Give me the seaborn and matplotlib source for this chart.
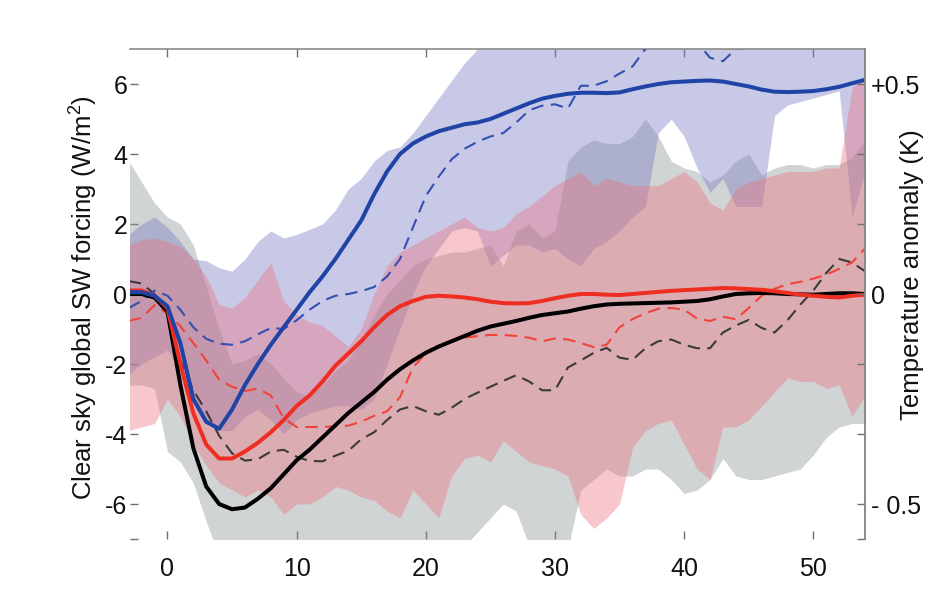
import numpy as np
import pandas as pd
import matplotlib
matplotlib.use("Agg")
import matplotlib.pyplot as plt
import seaborn as sns

# ---------------- data ----------------
years = list(range(-3, 55))

blue_mean = [0.05, 0.05, -0.05, -0.35, -1.4, -3.0, -3.65, -3.85, -3.3, -2.6, -2.0, -1.45, -0.95, -0.45,
             0.05, 0.5, 1.0, 1.55, 2.1, 2.85, 3.5, 4.0, 4.3, 4.5, 4.65, 4.75, 4.85, 4.9, 5.0, 5.15,
             5.3, 5.45, 5.58, 5.66, 5.72, 5.75, 5.75, 5.74, 5.76, 5.85, 5.93, 6.0, 6.05, 6.07, 6.09,
             6.1, 6.07, 6.0, 5.93, 5.84, 5.78, 5.77, 5.78, 5.8, 5.85, 5.92, 6.02, 6.12]
red_mean = [0.1, 0.1, -0.05, -0.4, -2.0, -3.4, -4.3, -4.7, -4.7, -4.5, -4.25, -3.95, -3.6, -3.2,
            -2.9, -2.5, -2.05, -1.7, -1.35, -0.95, -0.6, -0.35, -0.2, -0.08, -0.05, -0.07, -0.1,
            -0.15, -0.22, -0.26, -0.27, -0.26, -0.2, -0.12, -0.05, 0.0, 0.0, -0.02, -0.03, 0.0,
            0.03, 0.06, 0.09, 0.11, 0.13, 0.15, 0.17, 0.16, 0.14, 0.12, 0.08, 0.03, -0.02, -0.05,
            -0.08, -0.1, -0.05, -0.02]
black_mean = [0.0, 0.0, -0.1, -0.5, -2.6, -4.4, -5.5, -6.0, -6.15, -6.1, -5.85, -5.55, -5.15, -4.75,
              -4.45, -4.1, -3.75, -3.4, -3.1, -2.8, -2.45, -2.15, -1.9, -1.68, -1.5, -1.35, -1.2,
              -1.05, -0.93, -0.85, -0.77, -0.68, -0.6, -0.55, -0.5, -0.42, -0.35, -0.3, -0.28,
              -0.27, -0.26, -0.25, -0.24, -0.22, -0.2, -0.15, -0.07, 0.0, 0.02, 0.03, 0.02, 0.0,
              -0.01, -0.02, 0.0, 0.02, 0.02, 0.0]

blue_temp = [-0.4, -0.2, 0.1, -0.05, -0.45, -0.95, -1.28, -1.42, -1.45, -1.35, -1.15, -0.97, -1.0,
             -0.75, -0.45, -0.2, -0.05, 0.0, 0.08, 0.2, 0.5, 1.0, 1.9, 2.8, 3.35, 3.85, 4.15, 4.35,
             4.5, 4.6, 4.9, 5.25, 5.38, 5.42, 5.3, 5.95, 5.95, 6.08, 6.3, 6.5, 7.0, 7.4, 7.6, 7.5,
             7.2, 6.75, 6.65, 7.0, 7.4, 7.7, 7.9, 8.0, 8.0, 8.0, 8.0, 8.0, 8.0, 8.0]
red_temp = [-0.77, -0.68, -0.32, -0.55, -0.92, -1.4, -1.9, -2.45, -2.65, -2.77, -2.7, -2.9, -3.55,
            -3.8, -3.8, -3.8, -3.78, -3.76, -3.65, -3.48, -3.35, -2.95, -2.1, -1.7, -1.48, -1.35,
            -1.25, -1.2, -1.17, -1.17, -1.2, -1.25, -1.35, -1.27, -1.3, -1.4, -1.52, -1.45, -0.95,
            -0.72, -0.55, -0.42, -0.4, -0.45, -0.7, -0.77, -0.65, -0.72, -0.4, -0.05, 0.15, 0.28,
            0.35, 0.44, 0.55, 0.72, 0.9, 1.3]
black_temp = [0.37, 0.3, 0.0, -0.6, -1.9, -2.75, -3.35, -4.05, -4.55, -4.76, -4.72, -4.5, -4.45,
              -4.65, -4.77, -4.78, -4.62, -4.48, -4.15, -3.95, -3.6, -3.3, -3.2, -3.35, -3.45,
              -3.25, -3.0, -2.82, -2.65, -2.48, -2.32, -2.5, -2.75, -2.75, -2.1, -1.9, -1.68,
              -1.54, -1.82, -1.88, -1.55, -1.35, -1.3, -1.45, -1.55, -1.55, -1.1, -0.9, -0.74,
              -0.97, -1.1, -0.75, -0.3, 0.1, 0.6, 1.0, 0.9, 0.65]

gray_hi = [3.8, 3.2, 2.6, 2.2, 2.0, 1.4, 0.2, -1.0, -2.0, -1.9, -1.7, -2.0, -2.4, -2.8, -2.9, -2.6,
           -2.2, -1.9, -1.3, -0.6, 0.0, 0.4, 0.8, 1.0, 1.1, 1.2, 1.2, 1.3, 1.4, 0.8, 1.8, 2.0, 1.6,
           1.8, 3.8, 4.2, 4.4, 4.3, 4.3, 4.5, 5.0, 4.5, 3.8, 3.6, 3.5, 3.2, 3.4, 3.8, 4.0, 3.4,
           3.6, 3.7, 3.7, 3.6, 3.7, 3.7, 3.9, 4.4]
gray_lo = [-2.6, -2.6, -2.7, -4.5, -4.8, -5.4, -6.5, -7.5, -7.5, -7.5, -7.5, -7.5, -7.5, -7.5,
           -7.5, -7.5, -7.5, -7.5, -7.5, -7.5, -7.5, -7.5, -7.5, -7.5, -7.5, -7.5, -7.2, -6.8,
           -6.4, -6.0, -6.2, -7.2, -7.5, -7.5, -7.3, -5.6, -5.3, -5.0, -5.2, -5.2, -5.0, -5.0,
           -5.3, -5.7, -5.6, -5.3, -4.7, -5.2, -5.3, -5.3, -5.2, -5.1, -5.0, -4.6, -4.1, -3.8,
           -3.7, -3.7]
red_hi = [1.4, 1.55, 1.6, 1.5, 1.35, 1.0, 0.5, -0.3, -0.4, -0.1, 0.4, 0.9, -0.2, -0.6, -0.8, -0.9,
          -1.2, -1.5, -1.0, 0.0, 0.8, 1.2, 1.4, 1.6, 1.8, 2.0, 2.2, 1.9, 1.8, 1.9, 2.3, 2.5, 2.8,
          3.1, 3.3, 3.5, 3.1, 3.3, 3.2, 3.1, 3.1, 3.1, 3.3, 3.5, 3.2, 2.6, 2.4, 3.0, 3.2, 3.3,
          3.4, 3.5, 3.5, 3.5, 3.6, 3.6, 5.9, 6.2]
red_lo = [-3.9, -3.8, -3.7, -3.0, -3.5, -4.3, -4.9, -5.4, -5.6, -5.8, -5.6, -5.8, -6.3, -6.0, -6.0,
          -5.8, -5.5, -5.6, -5.8, -5.9, -6.2, -6.4, -5.6, -6.0, -6.4, -5.2, -4.7, -4.6, -4.8,
          -4.2, -4.5, -4.8, -4.9, -5.0, -5.2, -6.3, -6.7, -6.4, -6.0, -4.4, -3.9, -3.7, -3.6,
          -4.3, -5.0, -5.3, -3.8, -3.8, -3.6, -3.2, -2.8, -2.4, -2.5, -2.5, -2.7, -2.6, -3.5, -2.9]
blue_hi = [1.7, 2.0, 2.2, 1.9, 1.5, 1.0, 0.95, 0.75, 0.65, 1.0, 1.5, 1.8, 1.6, 1.7, 1.85, 2.0, 2.4,
           3.0, 3.3, 3.8, 4.1, 4.2, 4.6, 5.1, 5.6, 6.1, 6.6, 7.0, 7.6, 8.0, 8.0, 8.0, 8.0, 8.0,
           8.0, 8.0, 8.0, 8.0, 8.0, 8.0, 8.0, 8.0, 8.0, 8.0, 8.0, 8.0, 8.0, 8.0, 8.0, 8.0, 8.0,
           8.0, 8.0, 8.0, 8.0, 8.0, 8.0, 8.0]
blue_lo = [-2.3, -2.0, -1.8, -1.6, -2.2, -3.0, -3.7, -3.9, -3.9, -3.5, -3.3, -3.6, -4.0, -3.6,
           -3.4, -3.3, -3.2, -3.2, -3.3, -3.0, -2.0, -1.0, 0.0, 0.8, 1.3, 1.8, 1.9, 1.8, 0.8, 1.1,
           1.4, 1.4, 1.2, 1.3, 1.0, 0.8, 1.3, 1.5, 1.8, 2.2, 2.5, 4.6, 5.0, 4.5, 3.6, 2.9, 3.3,
           2.5, 2.5, 2.5, 5.1, 5.4, 5.5, 5.6, 5.7, 5.8, 2.2, 3.5]

left_ticks = [-6, -4, -2, 0, 2, 4, 6]
left_labels = ["-6", "-4", "-2", "0", "2", "4", "6"]
right_ticks = [-0.5, 0, 0.5]
right_labels = ["- 0.5", "0", "+0.5"]
x_ticks = [0, 10, 20, 30, 40, 50]

df = pd.DataFrame({"year": years,
                   "blue_mean": blue_mean, "red_mean": red_mean, "black_mean": black_mean,
                   "blue_temp": blue_temp, "red_temp": red_temp, "black_temp": black_temp})

# ---------------- style ----------------
sns.set_style("white")
plt.rcParams["font.family"] = ["Liberation Sans", "DejaVu Sans"]
plt.rcParams["mathtext.fontset"] = "custom"
plt.rcParams["mathtext.rm"] = "Liberation Sans"
plt.rcParams["mathtext.it"] = "Liberation Sans"

fig = plt.figure(figsize=(9.31, 6.04), dpi=100)
ax = fig.add_axes([130 / 931, 1 - 539 / 604, 735 / 931, 490 / 604])

# bands: gray (black), blue, red
ax.fill_between(years, gray_lo, gray_hi, color=(0.55, 0.58, 0.58), alpha=0.40, lw=0, zorder=1)
ax.fill_between(years, blue_lo, blue_hi, color=(0.46, 0.48, 0.76), alpha=0.40, lw=0, zorder=2)
ax.fill_between(years, red_lo, red_hi, color=(0.92, 0.45, 0.50), alpha=0.40, lw=0, zorder=3)

dash = (0, (6, 3.5))
sns.lineplot(data=df, x="year", y="black_temp", ax=ax, color="#3a3a3a", lw=1.5, zorder=5)
ax.lines[-1].set_linestyle(dash)
sns.lineplot(data=df, x="year", y="red_temp", ax=ax, color="#f0443a", lw=1.5, zorder=5)
ax.lines[-1].set_linestyle(dash)
sns.lineplot(data=df, x="year", y="blue_temp", ax=ax, color="#3550b0", lw=1.5, zorder=5)
ax.lines[-1].set_linestyle(dash)

sns.lineplot(data=df, x="year", y="black_mean", ax=ax, color="black", lw=2.9, zorder=6)
sns.lineplot(data=df, x="year", y="red_mean", ax=ax, color="#ee2e22", lw=2.9, zorder=7)
sns.lineplot(data=df, x="year", y="blue_mean", ax=ax, color="#1f44a6", lw=2.9, zorder=8)

ax.set_xlim(-2.9, 54)
ax.set_ylim(-7, 7)
ax.set_xticks(x_ticks)
ax.set_xticklabels([str(t) for t in x_ticks])
ax.set_yticks(left_ticks + [-7])
ax.set_yticklabels(left_labels + [""])
ax.tick_params(axis="both", direction="in", length=6, width=1, color="#707070",
               labelsize=18, labelcolor="#111111")
ax.tick_params(axis="x", top=True, bottom=True, pad=13)
ax.tick_params(axis="y", left=True, pad=2)
ax.set_xlabel("")
ax.set_ylabel("")

for side in ["left", "bottom"]:
    ax.spines[side].set_visible(False)
for side in ["top", "right"]:
    ax.spines[side].set_visible(True)
    ax.spines[side].set_color("#8a8a8a")
    ax.spines[side].set_linewidth(1.2)

ax2 = ax.twinx()
ax2.set_ylim(-7 / 12, 7 / 12)
minor = [-1 / 3, -1 / 6, 1 / 6, 1 / 3, -7 / 12]
ax2.set_yticks(right_ticks + minor)
ax2.set_yticklabels(right_labels + [""] * len(minor))
ax2.tick_params(axis="y", direction="in", length=6, width=1, color="#707070",
                labelsize=18, labelcolor="#111111", pad=4)
for side in ["left", "bottom", "top"]:
    ax2.spines[side].set_visible(False)
ax2.spines["right"].set_color("#8a8a8a")
ax2.spines["right"].set_linewidth(1.2)

fig.text(84 / 931, 1 - 298 / 604, "Clear sky global SW forcing (W/m$^{2}$)", rotation=90,
         ha="center", va="center", fontsize=18.5, color="#111111")
fig.text(912 / 931, 1 - 275 / 604, "Temperature anomaly (K)", rotation=90,
         ha="center", va="center", fontsize=18.5, color="#111111")

fig.savefig("out.png", dpi=100)
